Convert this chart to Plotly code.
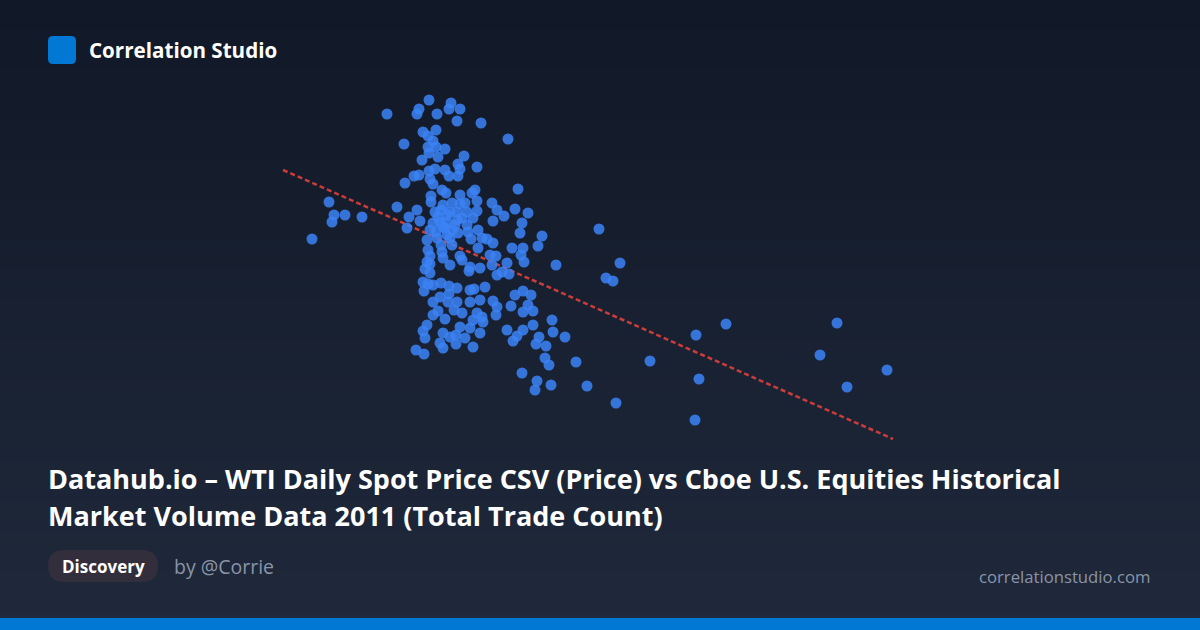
import plotly.graph_objects as go

W, H = 1200, 630

# ---- data: WTI spot price (USD) vs Cboe total trade count (millions) ----
price = [
    79.35, 81.45, 80.95, 80.85, 81.85, 82.55, 82.45, 83.00, 82.85, 84.05,
    85.40, 81.15, 81.40, 81.80, 80.20, 81.65, 81.40, 81.80, 82.25, 81.45,
    81.90, 83.20, 81.10, 82.90, 83.00, 82.90, 82.45, 82.25, 81.75, 81.45,
    83.85, 80.70, 80.95, 80.25, 81.50, 81.65, 82.10, 82.30, 83.00, 83.60,
    83.75, 85.90, 81.55, 81.55, 79.85, 80.85, 80.45, 81.00, 80.35, 82.15,
    82.60, 83.00, 83.25, 83.85, 83.85, 84.60, 84.85, 85.20, 85.75, 86.40,
    81.75, 81.90, 82.35, 82.85, 83.35, 83.65, 84.65, 86.10, 81.65, 82.35,
    82.85, 82.15, 82.60, 81.50, 83.35, 83.90, 83.40, 81.35, 81.85, 82.35,
    82.90, 83.55, 84.10, 84.35, 84.65, 86.00, 86.15, 85.60, 86.20, 81.40,
    82.10, 82.60, 83.00, 83.10, 83.90, 84.50, 84.80, 81.35, 82.50, 84.00,
    84.60, 85.35, 87.10, 86.90, 86.05, 87.80, 89.95, 76.45, 76.70, 76.60,
    77.25, 78.10, 75.60, 82.00, 82.25, 81.80, 82.50, 82.75, 83.10, 82.05,
    82.50, 82.05, 82.15, 81.50, 81.50, 81.50, 83.50, 83.45, 84.85, 85.10,
    85.45, 81.25, 81.15, 81.40, 81.65, 81.20, 82.85, 83.50, 83.70, 84.25,
    82.45, 82.05, 81.65, 82.00, 82.45, 82.40, 82.85, 83.50, 84.00, 84.65,
    84.85, 84.80, 85.75, 86.15, 86.55, 85.55, 86.15, 86.65, 86.40, 81.90,
    81.65, 82.25, 82.70, 83.10, 83.85, 84.10, 84.15, 83.65, 83.00, 82.15,
    82.50, 82.80, 83.50, 84.00, 83.25, 82.80, 82.00, 82.15, 83.65, 81.35,
    81.15, 81.25, 80.80, 81.20, 85.35, 85.85, 85.65, 86.15, 86.65, 87.60,
    87.65, 88.25, 86.95, 86.80, 87.30, 87.25, 87.45, 88.80, 92.50, 86.10,
    86.85, 86.75, 87.55, 89.35, 90.80, 90.30, 90.65, 91.00, 96.30, 94.80,
    101.85, 101.00, 104.35, 102.35, 94.95, 94.75,
]
trade_count = [
    24.30, 25.00, 24.55, 24.30, 24.30, 24.85, 24.55, 24.55, 23.95, 23.85,
    23.05, 23.40, 23.20, 23.50, 22.80, 22.95, 22.65, 22.65, 22.55, 22.35,
    22.15, 22.20, 22.00, 21.80, 21.55, 21.20, 21.20, 21.50, 21.55, 21.45,
    21.65, 21.20, 21.25, 20.85, 21.05, 20.80, 20.50, 20.35, 20.25, 20.35,
    20.50, 20.55, 20.20, 19.90, 19.65, 19.50, 19.15, 18.95, 18.60, 19.75,
    19.85, 19.80, 19.85, 19.95, 19.45, 19.85, 19.50, 19.20, 19.55, 19.35,
    19.40, 19.15, 19.25, 19.40, 19.40, 19.10, 18.95, 18.85, 18.85, 18.90,
    19.00, 18.65, 18.50, 18.50, 18.75, 18.50, 18.40, 18.00, 18.10, 18.25,
    18.35, 18.05, 18.10, 18.05, 17.85, 18.35, 17.60, 17.60, 16.90, 17.50,
    17.40, 17.75, 17.20, 17.00, 17.60, 17.25, 17.20, 16.90, 16.75, 16.60,
    16.75, 16.85, 18.20, 17.70, 17.25, 16.75, 18.55, 19.90, 19.25, 18.90,
    19.25, 19.15, 18.05, 18.90, 18.60, 18.40, 18.10, 18.75, 19.10, 19.50,
    19.40, 17.75, 17.10, 17.20, 16.80, 16.35, 16.65, 16.45, 16.25, 16.40,
    16.30, 16.55, 15.90, 15.80, 15.75, 15.45, 15.60, 15.50, 15.55, 15.65,
    15.70, 15.85, 14.90, 15.15, 15.30, 14.90, 14.90, 14.90, 15.00, 14.95,
    14.65, 14.25, 15.25, 15.45, 15.25, 14.70, 14.40, 14.45, 14.75, 14.45,
    14.25, 14.05, 14.50, 14.35, 14.35, 14.15, 13.90, 14.00, 13.65, 13.35,
    13.15, 13.25, 13.60, 13.35, 13.10, 12.80, 12.85, 12.60, 12.65, 13.75,
    13.45, 13.10, 12.50, 12.30, 13.50, 13.20, 12.95, 13.50, 13.75, 14.00,
    13.40, 13.15, 13.15, 12.80, 12.70, 12.10, 11.75, 11.90, 11.95, 11.35,
    10.95, 10.50, 10.75, 10.70, 9.85, 16.10, 15.95, 16.85, 13.80, 13.25,
    13.85, 12.25, 11.50, 10.65, 11.05, 9.00,
]
trend_x = [74.15, 104.65]
trend_y = [21.50, 8.05]

title_line1 = "Datahub.io \u2013 WTI Daily Spot Price CSV (Price) vs Cboe U.S. Equities Historical"
title_line2 = "Market Volume Data 2011 (Total Trade Count)"
brand = "Correlation Studio"
badge = "Discovery"
author = "by @Corrie"
site = "correlationstudio.com"

FONT = "Open Sans"


def px(x):
    return x / W


def py(y):
    return 1 - y / H


def rrect(x0, y0, x1, y1, r):
    pts = [
        f"M{px(x0 + r)},{py(y0)}",
        f"L{px(x1 - r)},{py(y0)}",
        f"Q{px(x1)},{py(y0)} {px(x1)},{py(y0 + r)}",
        f"L{px(x1)},{py(y1 - r)}",
        f"Q{px(x1)},{py(y1)} {px(x1 - r)},{py(y1)}",
        f"L{px(x0 + r)},{py(y1)}",
        f"Q{px(x0)},{py(y1)} {px(x0)},{py(y1 - r)}",
        f"L{px(x0)},{py(y0 + r)}",
        f"Q{px(x0)},{py(y0)} {px(x0 + r)},{py(y0)}",
        "Z",
    ]
    return " ".join(pts)


fig = go.Figure()
fig.add_trace(go.Scatter(
    x=trend_x, y=trend_y, mode="lines",
    line=dict(color="rgba(222,64,60,0.9)", width=2.5, dash="5px,3px"),
    hoverinfo="skip",
))
fig.add_trace(go.Scatter(
    x=price, y=trade_count, mode="markers",
    marker=dict(size=11, color="rgba(59,130,246,0.85)", line=dict(width=0)),
))

shapes = []
# vertical gradient background
top = (17, 24, 39)
bot = (31, 41, 59)
N = 63
for i in range(N):
    t = i / (N - 1)
    c = tuple(round(top[k] + (bot[k] - top[k]) * t) for k in range(3))
    shapes.append(dict(
        type="rect", xref="paper", yref="paper", layer="below",
        x0=0, x1=1, y0=py((i + 1) * H / N) - 0.002, y1=py(i * H / N),
        fillcolor=f"rgb{c}", line=dict(width=0),
    ))
# bottom bar
shapes.append(dict(type="rect", xref="paper", yref="paper", layer="above",
                   x0=0, x1=1, y0=0, y1=py(618), fillcolor="#0078d4", line=dict(width=0)))
# logo
shapes.append(dict(type="path", xref="paper", yref="paper", layer="above",
                   path=rrect(48, 36, 76, 64, 5), fillcolor="#0078d4", line=dict(width=0)))
# badge pill
shapes.append(dict(type="path", xref="paper", yref="paper", layer="above",
                   path=rrect(48, 550, 158, 582, 16), fillcolor="#332e3c", line=dict(width=0)))

ann = [
    dict(text=f"<b>{brand}</b>", x=px(87), y=py(50), xanchor="left", yanchor="middle",
         font=dict(family=FONT, size=20.6, color="#ffffff")),
    dict(text=f"<b>{title_line1}</b>", x=px(46), y=py(478), xanchor="left", yanchor="middle",
         font=dict(family=FONT, size=27, color="#ffffff")),
    dict(text=f"<b>{title_line2}</b>", x=px(46), y=py(515), xanchor="left", yanchor="middle",
         font=dict(family=FONT, size=27, color="#ffffff")),
    dict(text=f"<b>{badge}</b>", x=px(103), y=py(566), xanchor="center", yanchor="middle",
         font=dict(family=FONT, size=17, color="#ffffff")),
    dict(text=author, x=px(172), y=py(566), xanchor="left", yanchor="middle",
         font=dict(family=FONT, size=19.5, color="#8a94a8")),
    dict(text=site, x=px(1152), y=py(576), xanchor="right", yanchor="middle",
         font=dict(family=FONT, size=16.7, color="#8a94a8")),
]
for a in ann:
    a.update(xref="paper", yref="paper", showarrow=False)

fig.update_layout(
    width=W, height=H, margin=dict(l=0, r=0, t=0, b=0, pad=0),
    paper_bgcolor="rgb(17,24,39)", plot_bgcolor="rgba(0,0,0,0)",
    showlegend=False, shapes=shapes, annotations=ann,
    xaxis=dict(range=[60, 120], visible=False, fixedrange=True),
    yaxis=dict(range=[-1.5, 30], visible=False, fixedrange=True),
    hovermode=False,
)

fig.write_html(
    "out.html",
    config={"displayModeBar": False, "staticPlot": True},
    post_script="document.body.style.margin='0';document.body.style.overflow='hidden';",
)
